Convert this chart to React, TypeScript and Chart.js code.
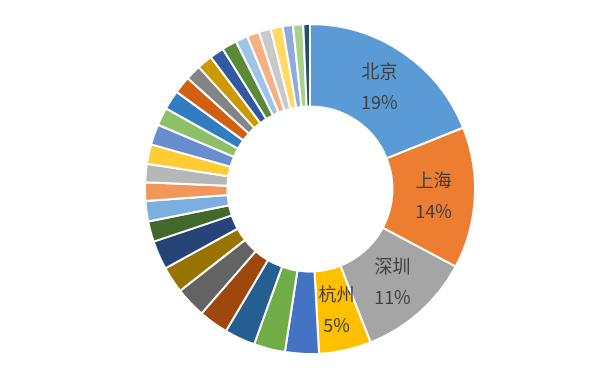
import React, { useEffect, useRef } from "react";
import { Chart, registerables } from "chart.js";

Chart.register(...registerables);

const cities: string[] = [
  "北京", "上海", "深圳", "杭州", "广州", "成都", "南京", "武汉", "苏州", "西安",
  "重庆", "天津", "长沙", "厦门", "青岛", "郑州", "合肥", "济南", "宁波", "福州",
  "大连", "东莞", "无锡", "沈阳", "昆明", "珠海", "佛山", "哈尔滨", "长春", "贵阳", "南昌",
];

const shares: number[] = [
  18.9, 13.8, 11.2, 5.1, 3.3, 3.05, 3.0, 2.9, 3.0, 2.6,
  2.8, 2.0, 2.0, 1.8, 1.8, 1.9, 2.0, 1.75, 1.9, 1.7,
  1.5, 1.5, 1.4, 1.45, 1.2, 1.2, 1.17, 1.17, 1.0, 1.0, 0.65,
];

const sliceColors: string[] = [
  "#5B9BD5", "#ED7D31", "#A5A5A5", "#FFC000", "#4472C4", "#70AD47",
  "#255E91", "#9E480E", "#636363", "#997300", "#264478", "#43682B",
  "#7CAFDD", "#F1975A", "#B7B7B7", "#FFCD33", "#698ED0", "#8CC168",
  "#327DC2", "#D26012", "#848484", "#CC9A00", "#335AA1", "#5A8A39",
  "#9DC3E6", "#F4B183", "#C9C9C9", "#FFD966", "#8FAADC", "#A9D18E",
  "#1F4E79",
];

const labeledCities: string[] = ["北京", "上海", "深圳", "杭州"];

const labelPlugin = {
  id: "ringLabels",
  afterDatasetsDraw(chart: any) {
    const ctx = chart.ctx;
    const meta = chart.getDatasetMeta(0);
    const data = chart.data.datasets[0].data as number[];
    const total = data.reduce((a, b) => a + b, 0);
    ctx.save();
    ctx.fillStyle = "#404040";
    ctx.font = '18px "Noto Sans CJK SC", sans-serif';
    ctx.textAlign = "center";
    ctx.textBaseline = "middle";
    meta.data.forEach((arc: any, i: number) => {
      const name = chart.data.labels[i];
      if (!labeledCities.includes(name)) return;
      const p = arc.getCenterPoint();
      const pct = Math.round((data[i] / total) * 100) + "%";
      ctx.fillText(name, p.x, p.y - 15.5);
      ctx.fillText(pct, p.x, p.y + 15.5);
    });
    ctx.restore();
  },
};

export default function App() {
  const ref = useRef<HTMLCanvasElement | null>(null);
  useEffect(() => {
    if (!ref.current) return;
    const chart = new Chart(ref.current, {
      type: "doughnut",
      data: {
        labels: cities,
        datasets: [
          {
            data: shares,
            backgroundColor: sliceColors,
            borderColor: "#FFFFFF",
            borderWidth: 2,
          },
        ],
      },
      options: {
        responsive: true,
        maintainAspectRatio: false,
        animation: false,
        cutout: "50%",
        layout: { padding: { top: 23, bottom: 36, left: 6, right: 0 } },
        plugins: {
          legend: { display: false },
          tooltip: { enabled: false },
        },
      },
      plugins: [labelPlugin],
    });
    return () => chart.destroy();
  }, []);
  return (
    <div style={{ position: "fixed", left: 0, top: 0, width: 614, height: 391, background: "#fff" }}>
      <canvas ref={ref} />
    </div>
  );
}
